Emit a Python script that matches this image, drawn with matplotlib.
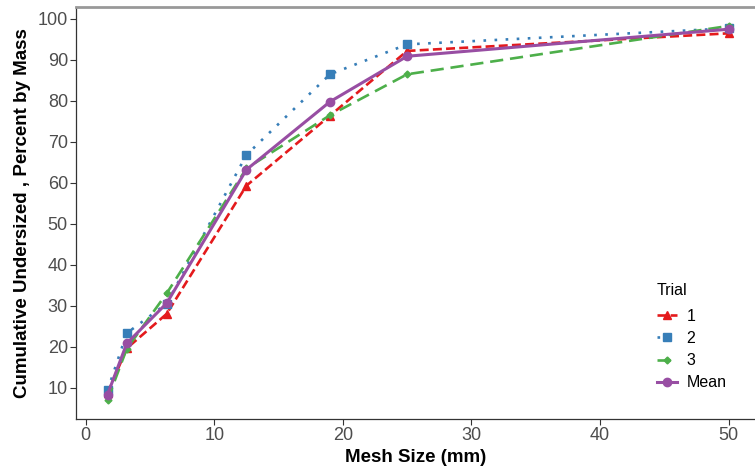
import matplotlib
matplotlib.use("Agg")
import matplotlib.pyplot as plt

plt.rcParams['font.family'] = ['Liberation Sans', 'DejaVu Sans']

mesh = [1.7, 3.2, 6.3, 12.5, 19, 25, 50]
trial1 = [8.6, 19.6, 28.0, 59.3, 76.4, 92.2, 96.5]
trial2 = [9.3, 23.3, 30.5, 66.8, 86.5, 93.8, 97.7]
trial3 = [7.0, 19.5, 33.0, 63.5, 76.5, 86.5, 98.3]
mean = [8.3, 20.8, 30.6, 63.2, 79.8, 90.9, 97.5]
labels = ["1", "2", "3", "Mean"]
xticks = [0, 10, 20, 30, 40, 50]
yticks = [10, 20, 30, 40, 50, 60, 70, 80, 90, 100]

fig = plt.figure(figsize=(7.55, 4.68), dpi=100)
ax = fig.add_axes([0.101, 0.1047, 0.899, 0.881])

ax.plot(mesh, trial1, color='#E41A1C', lw=1.9, dashes=(3.4, 1.6), marker='^', ms=6, label=labels[0])
ax.plot(mesh, trial2, color='#377EB8', lw=1.9, dashes=(1, 3.2), marker='s', ms=5.5, label=labels[1])
ax.plot(mesh, trial3, color='#4DAF4A', lw=1.9, dashes=(5, 2.6), marker='D', ms=3.5, label=labels[2])
ax.plot(mesh, mean, color='#984EA3', lw=2.2, ls='-', marker='o', ms=6, label=labels[3])

ax.set_xlim(-0.73, 52.05)
ax.set_ylim(2.34, 103.0)
ax.set_xticks(xticks)
ax.set_yticks(yticks)
ax.tick_params(colors='#333333', labelcolor='#4D4D4D', labelsize=13, length=4, width=0.8, pad=2)

for s in ['left', 'bottom']:
    ax.spines[s].set_color('#333333')
    ax.spines[s].set_linewidth(0.9)
ax.spines['right'].set_visible(False)
ax.spines['top'].set_color('#999999')
ax.spines['top'].set_linewidth(2)

ax.set_xlabel('Mesh Size (mm)', fontsize=13.5, fontweight='bold', labelpad=3)
ax.set_ylabel('Cumulative Undersized , Percent by Mass', fontsize=13.5, fontweight='bold', labelpad=5)

leg = ax.legend(title='Trial', loc='upper left', bbox_to_anchor=(0.870, 0.396),
                bbox_transform=fig.transFigure, frameon=False, fontsize=11.5,
                title_fontsize=11.5, handlelength=1.25, handletextpad=0.6,
                labelspacing=0.45, borderpad=0, borderaxespad=0)
leg._legend_box.align = 'left'
leg._legend_box.sep = 8

fig.savefig('out.png', dpi=100)
